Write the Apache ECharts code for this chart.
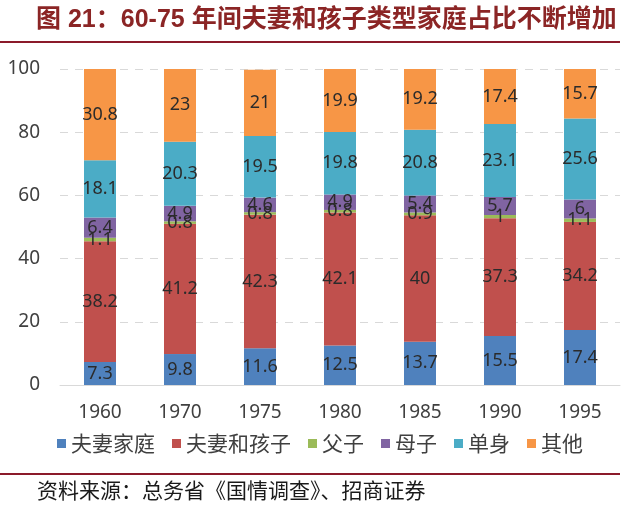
<!DOCTYPE html>
<html>
<head>
<meta charset="utf-8">
<script src="https://cdn.jsdelivr.net/npm/echarts@6/dist/echarts.min.js"></script>
<style>
html,body{margin:0;padding:0;background:#fff;}
#chart{width:640px;height:510px;}
</style>
</head>
<body>
<div id="chart"></div>
<script>
var categories = ['1960', '1970', '1975', '1980', '1985', '1990', '1995'];
var seriesNames = ['夫妻家庭', '夫妻和孩子', '父子', '母子', '单身', '其他'];
var coupleOnly = [7.3, 9.8, 11.6, 12.5, 13.7, 15.5, 17.4];
var coupleChildren = [38.2, 41.2, 42.3, 42.1, 40, 37.3, 34.2];
var fatherChild = [1.1, 0.8, 0.8, 0.8, 0.9, 1, 1.1];
var motherChild = [6.4, 4.9, 4.6, 4.9, 5.4, 5.7, 6];
var single = [18.1, 20.3, 19.5, 19.8, 20.8, 23.1, 25.6];
var other = [30.8, 23, 21, 19.9, 19.2, 17.4, 15.7];
var yTicks = [0, 20, 40, 60, 80, 100];

var colors = ['#4f81bd', '#c0504d', '#9bbb59', '#8064a2', '#4bacc6', '#f79646'];
var allData = [coupleOnly, coupleChildren, fatherChild, motherChild, single, other];

var chart = echarts.init(document.getElementById('chart'));
var numFont = '"Noto Sans", "Liberation Sans", sans-serif';
var cjkFont = '"Noto Sans CJK SC", sans-serif';

var series = seriesNames.map(function (name, i) {
  return {
    name: name,
    type: 'bar',
    stack: 'total',
    barWidth: 32,
    clip: true,
    itemStyle: { color: colors[i] },
    label: {
      show: true,
      position: 'inside',
      color: '#2b2b2b',
      fontSize: 18,
      fontFamily: numFont,
      formatter: function (p) { return String(p.value); }
    },
    data: allData[i]
  };
});

chart.setOption({
  animation: false,
  color: colors,
  grid: { left: 60, right: 20, top: 69, bottom: 125, containLabel: false },
  legend: {
    data: seriesNames,
    left: 'center',
    top: 428,
    icon: 'rect',
    itemWidth: 9,
    itemHeight: 9,
    itemGap: 17,
    textStyle: { fontSize: 21, color: '#404040', fontFamily: cjkFont }
  },
  xAxis: {
    type: 'category',
    data: categories,
    axisLine: { lineStyle: { color: '#d9d9d9', width: 1 } },
    axisTick: { show: false },
    axisLabel: { color: '#404040', fontSize: 19, fontFamily: numFont, margin: 18 }
  },
  yAxis: {
    type: 'value',
    min: yTicks[0],
    max: yTicks[yTicks.length - 1],
    interval: yTicks[1] - yTicks[0],
    axisLine: { show: false },
    axisTick: { show: false },
    axisLabel: { color: '#404040', fontSize: 19, fontFamily: numFont, margin: 20 },
    splitLine: { lineStyle: { color: '#d9d9d9', type: [8, 7], width: 1 } }
  },
  graphic: [
    {
      type: 'text',
      left: 36,
      top: 8,
      style: {
        text: '图 21：60-75 年间夫妻和孩子类型家庭占比不断增加',
        fill: '#8b2525',
        fontSize: 25,
        fontWeight: 'bold',
        fontFamily: '"Liberation Sans", "Noto Sans CJK SC", sans-serif'
      }
    },
    {
      type: 'rect',
      shape: { x: 0, y: 41, width: 620, height: 2 },
      style: { fill: '#8b1a2a' }
    },
    {
      type: 'rect',
      shape: { x: 0, y: 473, width: 620, height: 2 },
      style: { fill: '#8b1a2a' }
    },
    {
      type: 'text',
      left: 37,
      top: 480,
      style: {
        text: '资料来源：总务省《国情调查》、招商证券',
        fill: '#1a1a1a',
        fontSize: 21,
        fontFamily: cjkFont
      }
    }
  ],
  series: series
});
</script>
</body>
</html>
